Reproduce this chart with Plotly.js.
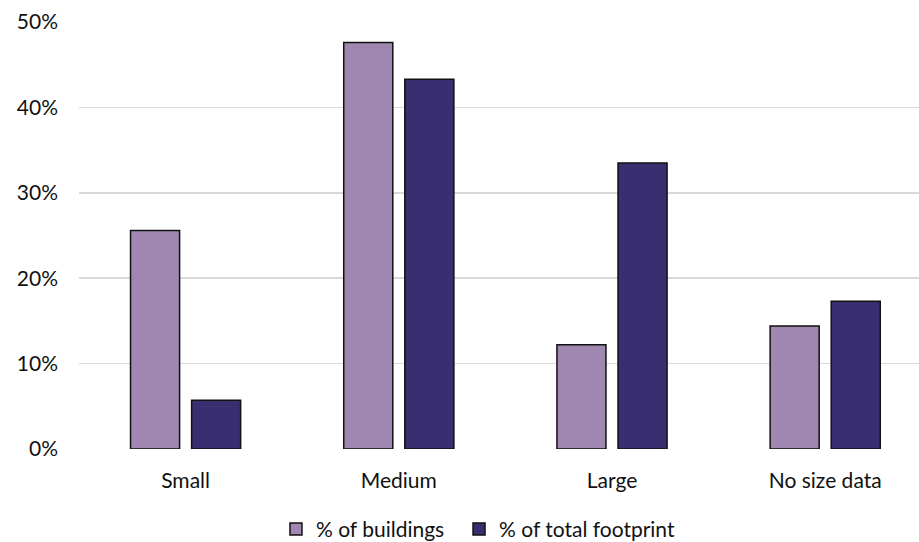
<!DOCTYPE html>
<html>
<head>
<meta charset="utf-8">
<script src="https://cdn.plot.ly/plotly-3.0.1.min.js"></script>
<style>
  html, body { margin: 0; padding: 0; background: #ffffff; }
  #chart { width: 919px; height: 542px; }
</style>
</head>
<body>
<div id="chart"></div>
<script>
// Building size categories
const categories = ["Small", "Medium", "Large", "No size data"];

// Share of buildings and of total footprint per size category (%)
const pctBuildings = [25.6, 47.6, 12.2, 14.4];
const pctFootprint = [5.7, 43.3, 33.5, 17.3];

const seriesNames = ["% of buildings", "% of total footprint"];
const yTicks = [0, 10, 20, 30, 40, 50];
const yTickLabels = ["0%", "10%", "20%", "30%", "40%", "50%"];

const FONT = "Lato, 'Open Sans', 'DejaVu Sans', sans-serif";

const traces = [
  {
    type: "bar",
    name: seriesNames[0],
    x: categories,
    y: pctBuildings,
    legend: "legend",
    marker: { color: "#A087B1", line: { color: "#111111", width: 1.5 } },
    hoverinfo: "x+y"
  },
  {
    type: "bar",
    name: seriesNames[1],
    x: categories,
    y: pctFootprint,
    legend: "legend2",
    marker: { color: "#392F70", line: { color: "#111111", width: 1.5 } },
    hoverinfo: "x+y"
  }
];

// one legend entry per box, laid out side by side below the axis
function legendBox(x) {
  return {
    orientation: "h",
    x: x,
    xanchor: "left",
    y: -0.188,
    yanchor: "middle",
    font: { family: FONT, size: 21, color: "#111111" },
    itemwidth: 30,
    bgcolor: "rgba(0,0,0,0)"
  };
}

const layout = {
  width: 919,
  height: 542,
  margin: { l: 79, r: 0, t: 22, b: 93, autoexpand: false },
  paper_bgcolor: "#ffffff",
  plot_bgcolor: "#ffffff",
  font: { family: FONT, size: 21, color: "#111111" },
  barmode: "group",
  bargap: 0.427,
  bargroupgap: 0.197,
  showlegend: true,
  legend: legendBox(0.2345),
  legend2: legendBox(0.4524),
  xaxis: {
    type: "category",
    range: [-0.5, 3.44],
    showgrid: false,
    zeroline: false,
    showline: false,
    ticks: "",
    ticklabelstandoff: 17,
    tickfont: { family: FONT, size: 21, color: "#111111" },
    fixedrange: true
  },
  yaxis: {
    range: [0, 50],
    tickvals: yTicks,
    ticktext: yTickLabels,
    showgrid: true,
    gridcolor: "#d9d9d9",
    gridwidth: 1.5,
    zeroline: false,
    showline: false,
    ticks: "",
    ticklabelstandoff: 20,
    tickfont: { family: FONT, size: 21, color: "#111111" },
    fixedrange: true
  }
};

Plotly.newPlot("chart", traces, layout, { displayModeBar: false, staticPlot: true });
</script>
</body>
</html>
